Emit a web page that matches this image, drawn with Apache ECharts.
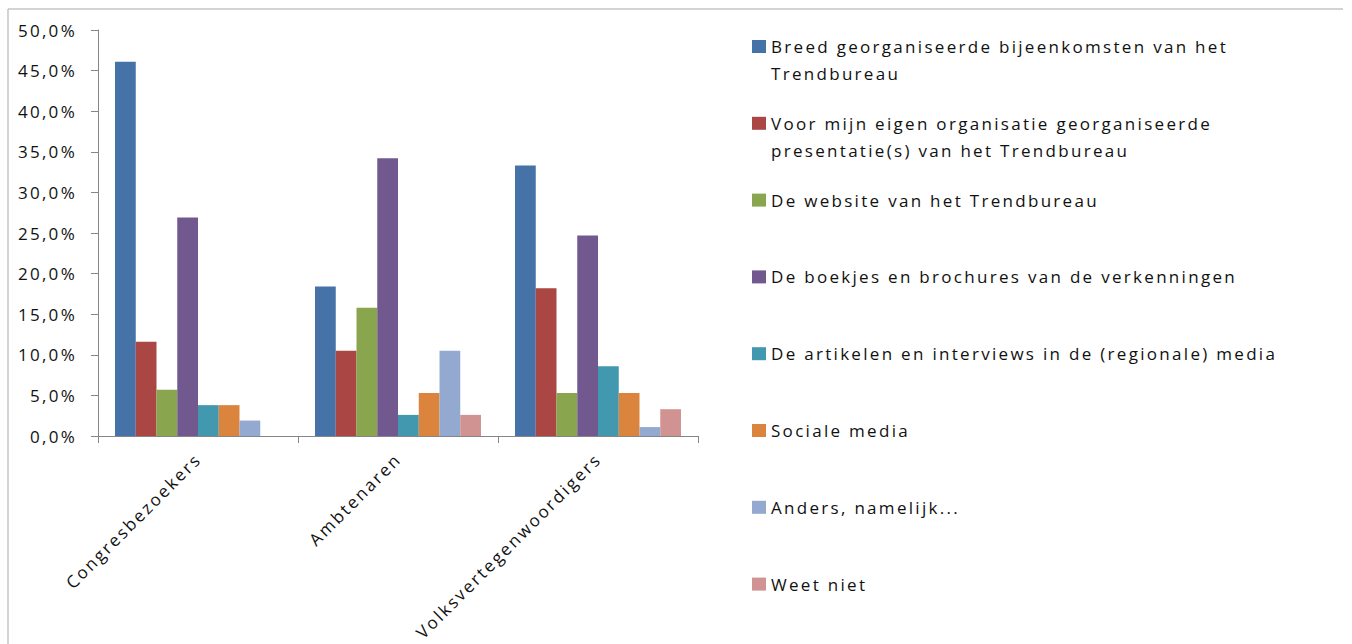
<!DOCTYPE html>
<html>
<head>
<meta charset="utf-8">
<script src="https://cdn.jsdelivr.net/npm/echarts@6/dist/echarts.min.js"></script>
<style>
  html, body { margin: 0; padding: 0; background: #ffffff; }
  #chart { width: 1352px; height: 644px; }
  /* wide, spaced lettering of the chart text */
  #chart text { letter-spacing: 2.3px; }
</style>
</head>
<body>
<div id="chart"></div>
<script>
// Respondent groups on the x axis
const categories = ['Congresbezoekers', 'Ambtenaren', 'Volksvertegenwoordigers'];

// Information sources (one bar series each)
const seriesNames = [
  'Breed georganiseerde bijeenkomsten van het Trendbureau',
  'Voor mijn eigen organisatie georganiseerde presentatie(s) van het Trendbureau',
  'De website van het Trendbureau',
  'De boekjes en brochures van de verkenningen',
  'De artikelen en interviews in de (regionale) media',
  'Sociale media',
  'Anders, namelijk...',
  'Weet niet'
];

// Legend text, split where the entry wraps onto a second line
const legendFirstLines = [
  'Breed georganiseerde bijeenkomsten van het',
  'Voor mijn eigen organisatie georganiseerde',
  'De website van het Trendbureau',
  'De boekjes en brochures van de verkenningen',
  'De artikelen en interviews in de (regionale) media',
  'Sociale media',
  'Anders, namelijk...',
  'Weet niet'
];
const legendSecondLines = ['Trendbureau', 'presentatie(s) van het Trendbureau'];

// Shares in percent, per respondent group
const breedBijeenkomsten = [46.1, 18.4, 33.3];
const eigenPresentaties  = [11.6, 10.5, 18.2];
const website            = [5.7, 15.8, 5.3];
const boekjes            = [26.9, 34.2, 24.7];
const artikelenMedia     = [3.8, 2.6, 8.6];
const socialeMedia       = [3.8, 5.3, 5.3];
const anders             = [1.9, 10.5, 1.1];
const weetNiet           = [0, 2.6, 3.3];

// Value axis range and tick step (percent)
const yMin = 0;
const yMax = 50;
const yStep = 5;

const seriesValues = [
  breedBijeenkomsten, eigenPresentaties, website, boekjes,
  artikelenMedia, socialeMedia, anders, weetNiet
];

const colors = ['#4572A7', '#AA4643', '#89A54E', '#71588F', '#4198AF', '#DB843D', '#93A9CF', '#D19392'];

const FONT = '"Open Sans", "Noto Sans", sans-serif';
const FONT_SIZE = 17;
const TEXT_COLOR = '#111111';
const AXIS_COLOR = '#868686';
const BORDER_COLOR = '#c4c4c4';

const chart = echarts.init(document.getElementById('chart'), null, { renderer: 'svg' });

const legendLeft = 752;
const legendTop = 38;
const legendStep = 76.8;

const option = {
  animation: false,
  backgroundColor: '#ffffff',
  color: colors,
  textStyle: { fontFamily: FONT },
  grid: { left: 98, right: 654, top: 30, bottom: 208, containLabel: false },
  legend: {
    orient: 'vertical',
    left: legendLeft,
    top: legendTop,
    padding: 0,
    itemWidth: 14,
    itemHeight: 13,
    itemGap: legendStep - 17,
    selectedMode: false,
    icon: 'rect',
    data: seriesNames,
    formatter: function (name) {
      return legendFirstLines[seriesNames.indexOf(name)];
    },
    textStyle: { fontFamily: FONT, fontSize: FONT_SIZE, color: TEXT_COLOR }
  },
  graphic: [
    // chart frame (top and left edges)
    { type: 'line', shape: { x1: 8, y1: 9, x2: 1343, y2: 9 }, style: { stroke: BORDER_COLOR, lineWidth: 1.5 }, silent: true },
    { type: 'line', shape: { x1: 8, y1: 9, x2: 8, y2: 644 }, style: { stroke: BORDER_COLOR, lineWidth: 1.5 }, silent: true },
    // wrapped continuation lines of the first two legend entries
    {
      type: 'text', left: 771, top: legendTop + 27, silent: true,
      style: { text: legendSecondLines[0], font: FONT_SIZE + 'px ' + FONT, fill: TEXT_COLOR }
    },
    {
      type: 'text', left: 771, top: legendTop + legendStep + 27, silent: true,
      style: { text: legendSecondLines[1], font: FONT_SIZE + 'px ' + FONT, fill: TEXT_COLOR }
    }
  ],
  xAxis: {
    type: 'category',
    data: categories,
    boundaryGap: true,
    axisLine: { show: true, lineStyle: { color: AXIS_COLOR, width: 1 } },
    axisTick: { show: true, length: 7, lineStyle: { color: AXIS_COLOR } },
    axisLabel: {
      interval: 0,
      rotate: 45,
      margin: 20,
      fontFamily: FONT,
      fontSize: FONT_SIZE,
      color: TEXT_COLOR
    },
    splitLine: { show: false }
  },
  yAxis: {
    type: 'value',
    min: yMin,
    max: yMax,
    interval: yStep,
    axisLine: { show: true, lineStyle: { color: AXIS_COLOR, width: 1 } },
    axisTick: { show: true, length: 7, lineStyle: { color: AXIS_COLOR } },
    splitLine: { show: false },
    axisLabel: {
      margin: 21,
      fontFamily: FONT,
      fontSize: FONT_SIZE,
      color: TEXT_COLOR,
      formatter: function (v) { return v.toFixed(1).replace('.', ',') + '%'; }
    }
  },
  series: seriesNames.map(function (name, i) {
    return {
      name: name,
      type: 'bar',
      data: seriesValues[i],
      barGap: '0%',
      barCategoryGap: '17%',
      itemStyle: { color: colors[i] }
    };
  })
};

chart.setOption(option);
</script>
</body>
</html>
